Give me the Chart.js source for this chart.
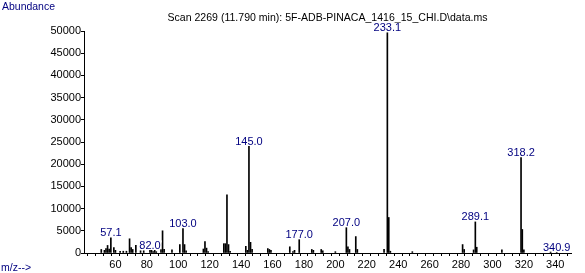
<!DOCTYPE html>
<html>
<head>
<meta charset="utf-8">
<script src="https://cdn.jsdelivr.net/npm/chart.js@4"></script>
<style>
  body { margin: 0; background: #fff; }
</style>
</head>
<body>
<canvas id="msChart" width="585" height="273"></canvas>
<script>
// --- Spectrum data (m/z vs abundance) ---
const mzValues = [51, 53, 54, 55, 56, 57.1, 59, 60, 63, 65, 67, 69, 70, 71, 73, 76, 78,
  82.0, 83, 84, 85, 86, 89, 90, 91, 96, 101, 103.0, 104, 105, 116, 117, 118, 119,
  129, 130, 131, 132, 133, 143, 144, 145.0, 146, 147, 157, 158, 159, 171, 173, 174,
  177.0, 185, 186, 191, 192, 200, 207.0, 208, 209, 213, 214, 231, 233.1, 234, 235,
  249, 281, 282, 288, 289.1, 290, 306, 318.2, 319, 320, 337, 340.9];
const abundance = [800, 600, 1000, 1700, 900, 3400, 1200, 600, 400, 400, 400, 3200, 1200, 800, 1700, 500, 500,
  600, 600, 300, 600, 300, 2300, 5000, 800, 700, 1900, 5500, 1900, 500, 900, 2600, 1100, 300,
  2100, 2100, 13100, 1900, 400, 1500, 600, 24000, 2400, 800, 1000, 800, 600, 1400, 300, 600,
  3000, 800, 600, 800, 500, 300, 5700, 1400, 800, 3700, 800, 800, 49600, 8000, 400,
  300, 1900, 800, 700, 7000, 1300, 700, 21500, 5300, 700, 300, 100];

// peaks that get an m/z label
const labelledPeaks = ["57.1", "82.0", "103.0", "145.0", "177.0", "207.0", "233.1", "289.1", "318.2", "340.9"];

const yTicks = { min: 0, max: 50000, step: 5000 };
const xTicks = { min: 40, max: 350, step: 5, labelStep: 20, firstLabel: 60, lastLabel: 340 };

const FONT = "'Liberation Sans', Arial, sans-serif";
const NAVY = "#000080";

// --- Text plugin: header, axis captions, peak labels ---
const textPlugin = {
  id: "msText",
  beforeDatasetsDraw(chart) {
    const ctx = chart.ctx;
    const area = chart.chartArea;
    ctx.save();
    ctx.font = "11px " + FONT;
    ctx.textBaseline = "middle";
    ctx.fillStyle = "#000";
    ctx.textAlign = "center";
    ctx.fillText("Scan 2269 (11.790 min): 5F-ADB-PINACA_1416_15_CHI.D\\data.ms", (area.left + area.right) / 2, 18, 320);
    ctx.fillStyle = NAVY;
    ctx.textAlign = "left";
    ctx.fillText("Abundance", 2, 7, 53);
    ctx.fillText("m/z-->", 1, 268, 30);
    ctx.restore();
  },
  afterDatasetsDraw(chart) {
    const ctx = chart.ctx;
    const meta = chart.getDatasetMeta(0);
    ctx.save();
    ctx.font = "11px " + FONT;
    ctx.textAlign = "center";
    ctx.textBaseline = "bottom";
    labelledPeaks.forEach((lbl) => {
      const i = mzValues.indexOf(parseFloat(lbl));
      if (i < 0) return;
      const bar = meta.data[i];
      const w = ctx.measureText(lbl).width;
      const yb = bar.y - 1;
      ctx.fillStyle = "#fff";
      ctx.fillRect(bar.x - w / 2 - 1, yb - 9, w + 2, 9);
      ctx.fillStyle = NAVY;
      ctx.fillText(lbl, bar.x, yb + 2);
    });
    ctx.restore();
  },
};

document.addEventListener("DOMContentLoaded", () => {
  const ctx = document.getElementById("msChart");

  new Chart(ctx, {
    type: "bar",
    data: {
      datasets: [
        {
          data: mzValues.map((m, i) => ({ x: m, y: abundance[i] })),
          backgroundColor: "#000",
          barThickness: 1,
          borderWidth: 0,
        },
      ],
    },
    options: {
      responsive: false,
      animation: false,
      devicePixelRatio: 1,
      layout: { padding: { left: 0, top: 31, right: 14, bottom: 0 } },
      plugins: {
        legend: { display: false },
        tooltip: { enabled: false },
        title: { display: false },
      },
      scales: {
        x: {
          type: "linear",
          offset: false,
          min: xTicks.min,
          max: xTicks.max,
          afterFit: (scale) => { scale.height = 20; },
          afterBuildTicks: (scale) => {
            const t = [];
            for (let v = xTicks.min; v <= xTicks.max; v += xTicks.step) t.push({ value: v });
            scale.ticks = t;
          },
          ticks: {
            autoSkip: false,
            maxRotation: 0,
            padding: 2,
            color: "#000",
            font: { family: FONT, size: 11 },
            callback: (v) =>
              v % xTicks.labelStep === 0 && v >= xTicks.firstLabel && v <= xTicks.lastLabel ? String(v) : "",
          },
          grid: { drawOnChartArea: false, color: "#000", tickLength: 3 },
          border: { display: true, color: "#000", width: 1 },
        },
        y: {
          min: yTicks.min,
          max: yTicks.max,
          afterFit: (scale) => { scale.width = 84; },
          ticks: {
            stepSize: yTicks.step,
            padding: 0,
            color: "#000",
            font: { family: FONT, size: 11 },
            callback: (v) => String(v),
          },
          grid: { drawOnChartArea: false, color: "#000", tickLength: 3 },
          border: { display: true, color: "#000", width: 1 },
        },
      },
    },
    plugins: [textPlugin],
  });
});
</script>
</body>
</html>
